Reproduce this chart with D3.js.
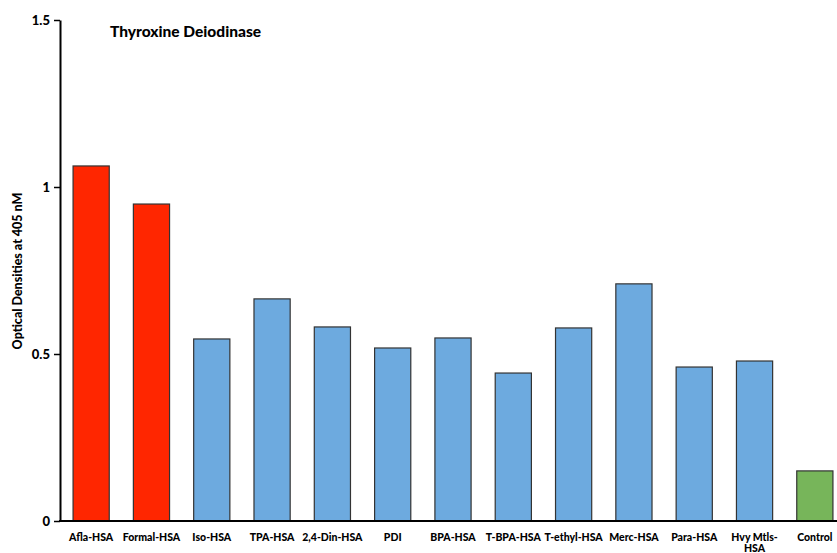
<!DOCTYPE html>
<html><head><meta charset="utf-8">
<script src="https://cdn.jsdelivr.net/npm/d3@7"></script>
<style>body{margin:0;background:#fff;} svg{display:block;font-family:Lato, "Open Sans", sans-serif;}</style>
</head><body><svg id="c" width="837" height="553"></svg>
<script>
const categories = ["Afla-HSA","Formal-HSA","Iso-HSA","TPA-HSA","2,4-Din-HSA","PDI","BPA-HSA","T-BPA-HSA","T-ethyl-HSA","Merc-HSA","Para-HSA","Hvy Mtls-HSA","Control"];
const values = [1.063,0.949,0.545,0.665,0.581,0.518,0.548,0.443,0.578,0.710,0.461,0.479,0.150];
const groups = ["high","high","mid","mid","mid","mid","mid","mid","mid","mid","mid","mid","control"];
const yTicks = [0,0.5,1,1.5];
const yTickLabels = ["0","0.5","1","1.5"];
const title = "Thyroxine Deiodinase";
const yTitle = "Optical Densities at 405 nM";

const colors = {high:"#FF2600", mid:"#6DAADF", control:"#77B55A"};
const svg = d3.select("#c");
const x = d3.scaleBand().domain(categories).range([61,845]).paddingInner(0.4).paddingOuter(0.2);
const y = d3.scaleLinear().domain([0,1.5]).range([521,20]);

svg.selectAll("rect.bar").data(categories).join("rect")
  .attr("class","bar")
  .attr("x",d=>x(d)).attr("width",x.bandwidth())
  .attr("y",(d,i)=>y(values[i])).attr("height",(d,i)=>y(0)-y(values[i]))
  .attr("fill",(d,i)=>colors[groups[i]])
  .attr("stroke","#333").attr("stroke-width",1.2);

// y axis
const yAxis = svg.append("g").attr("transform","translate(60,0)")
  .call(d3.axisLeft(y).tickValues(yTicks).tickFormat((d,i)=>yTickLabels[i]).tickSize(6).tickSizeOuter(0));
yAxis.select(".domain").attr("stroke","#000").attr("stroke-width",2);
yAxis.selectAll(".tick line").attr("stroke","#000").attr("stroke-width",1.5);
yAxis.selectAll(".tick text").attr("font-size",13).attr("font-weight","900").attr("fill","#000").attr("x",-10).attr("font-family","Lato, sans-serif");

// x axis
const xAxis = svg.append("g").attr("transform","translate(0,521)")
  .call(d3.axisBottom(x).tickSize(0).tickSizeOuter(0));
xAxis.select(".domain").attr("d","M59,0H837").attr("stroke","#000").attr("stroke-width",2);
xAxis.selectAll(".tick text").attr("font-size",10.5).attr("font-weight","900").attr("fill","#000")
  .attr("font-family","Lato, sans-serif").attr("dy",null).attr("y",20)
  .each(function(d){
    if(d==="Hvy Mtls-HSA"){
      const t=d3.select(this); t.text("");
      t.append("tspan").attr("x",0).attr("y",20).text("Hvy Mtls-");
      t.append("tspan").attr("x",0).attr("y",30.5).text("HSA");
    }
  });

svg.append("text").attr("x",110).attr("y",37).attr("font-size",15.5).attr("font-weight","900").text(title);
svg.append("text").attr("transform","translate(22,271) rotate(-90)").attr("text-anchor","middle")
  .attr("font-size",12.5).attr("font-weight","900").text(yTitle);
</script></body></html>
